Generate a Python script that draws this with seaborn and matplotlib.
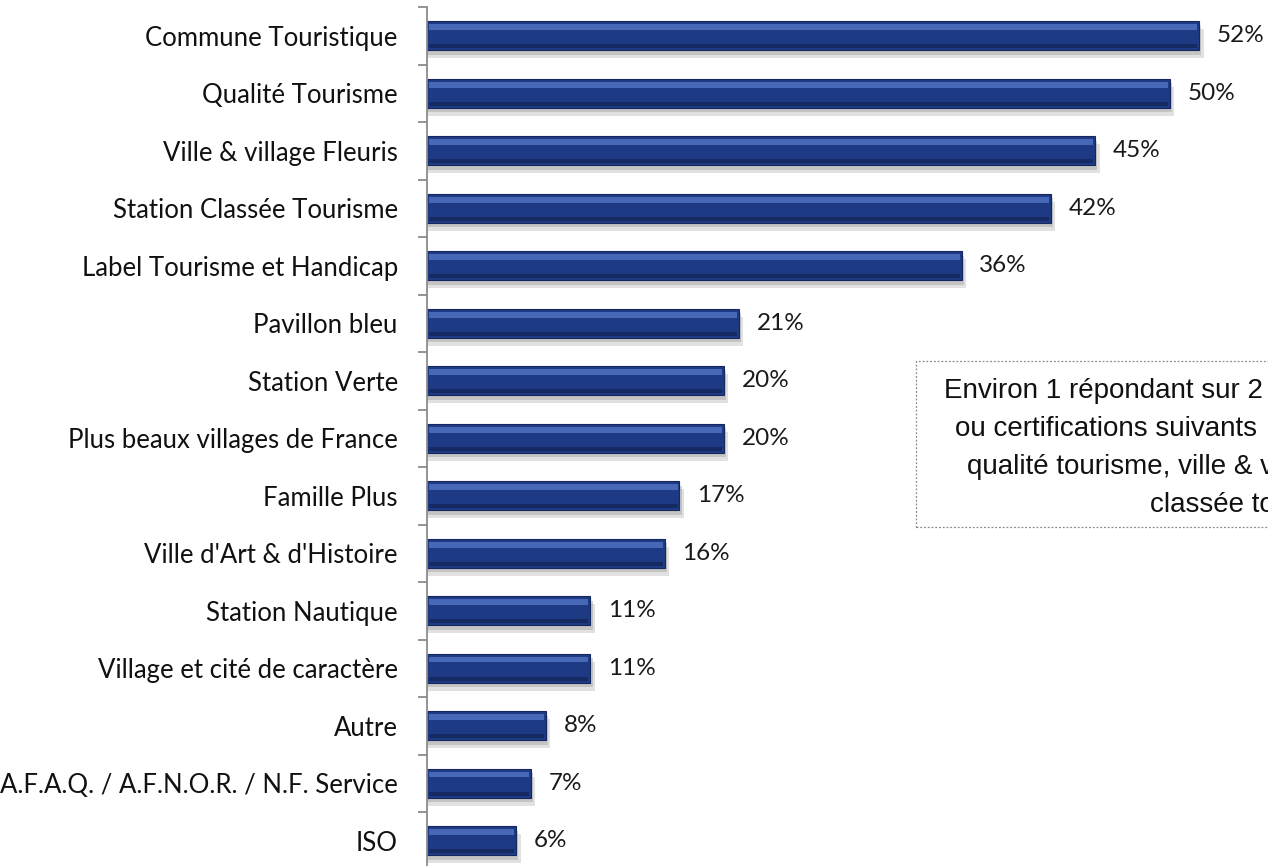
import matplotlib
matplotlib.use("Agg")
import matplotlib.pyplot as plt
import numpy as np
import pandas as pd
import seaborn as sns

# ── data ──────────────────────────────────────────────────────────────────────
labels = [
    "Commune Touristique",
    "Qualité Tourisme",
    "Ville & village Fleuris",
    "Station Classée Tourisme",
    "Label Tourisme et Handicap",
    "Pavillon bleu",
    "Station Verte",
    "Plus beaux villages de France",
    "Famille Plus",
    "Ville d'Art & d'Histoire",
    "Station Nautique",
    "Village et cité de caractère",
    "Autre",
    "A.F.A.Q. / A.F.N.O.R. / N.F. Service",
    "ISO",
]
values = [52, 50, 45, 42, 36, 21, 20, 20, 17, 16, 11, 11, 8, 7, 6]

# note box is cut by the right edge of the picture
note_lines = [
    "Environ 1 répondant sur 2",
    "ou certifications suivants",
    "qualité tourisme, ville & v",
    "classée to",
]
note_x = [944, 955, 967, 1150]

df = pd.DataFrame({"label": labels, "value": values})

# ── style ─────────────────────────────────────────────────────────────────────
sns.set_style("white")
plt.rcParams["font.family"] = ["Lato", "DejaVu Sans"]

W, H = 1268, 866
fig = plt.figure(figsize=(W / 100, H / 100), dpi=100)
ax_left, ax_top, ax_bottom = 427, 7, 869.5
ax = fig.add_axes([ax_left / W, 1 - ax_bottom / H, 1 - ax_left / W,
                   (ax_bottom - ax_top) / H])

bar_h = 0.5
pos = np.arange(len(labels))

# soft drop shadow under each bar
ax.barh(pos + 0.14, df["value"] + 0.3, height=bar_h, left=0,
        color="#c4c4c4", alpha=0.5, zorder=1, linewidth=0)
ax.barh(pos + 0.08, df["value"] + 0.15, height=bar_h, left=0,
        color="#a8a8a8", alpha=0.5, zorder=1, linewidth=0)

sns.barplot(data=df, x="value", y="label", orient="h", color="#1e3a85",
            saturation=1, width=bar_h, ax=ax, zorder=2,
            edgecolor="#14285e", linewidth=0.8)

# bevel: light stripe on top, dark stripe at the bottom
ax.barh(pos - bar_h * 0.30, df["value"] - 0.25, height=bar_h * 0.2, left=0.12,
        color="#5478c8", alpha=0.75, zorder=3, linewidth=0)
ax.barh(pos + bar_h * 0.36, df["value"] - 0.25, height=bar_h * 0.14, left=0.12,
        color="#122659", alpha=0.8, zorder=3, linewidth=0)

for p, v in zip(pos, values):
    ax.text(v + 1.2, p, f"{v}%", va="center", ha="left", fontsize=17.5,
            color="#1a1a1a")

ax.set_xlim(0, (W - ax_left) / 14.85)
ax.set_ylim(len(labels) - 0.5, -0.5)

ax.set_xlabel("")
ax.set_ylabel("")
ax.set_xticks([])
ax.set_yticks(pos)
ax.set_yticklabels(labels, fontsize=18.5, color="#111111")
ax.tick_params(axis="y", which="major", left=False, length=0, pad=21)
ax.set_yticks(np.arange(len(labels) + 1) - 0.5, minor=True)
ax.tick_params(axis="y", which="minor", left=True, length=6.5, width=1.3,
               color="#8c8c8c", direction="out")

for side in ["top", "right", "bottom"]:
    ax.spines[side].set_visible(False)
ax.spines["left"].set_color("#8c8c8c")
ax.spines["left"].set_linewidth(1.3)

# dashed note box running off the right edge
box = plt.Rectangle((916 / W, 1 - 527 / H), (W - 916 + 50) / W, (527 - 361) / H,
                    transform=fig.transFigure, fill=False, edgecolor="#8a8a8a",
                    linestyle=(0, (1.5, 1.5)), linewidth=0.9)
fig.patches.append(box)
for i, (line, x) in enumerate(zip(note_lines, note_x)):
    fig.text(x / W, 1 - (398 + 38 * i) / H, line, ha="left", va="baseline",
             fontsize=20, family=["Liberation Sans", "DejaVu Sans"],
             color="#111111")

fig.savefig("out.png", dpi=100)
